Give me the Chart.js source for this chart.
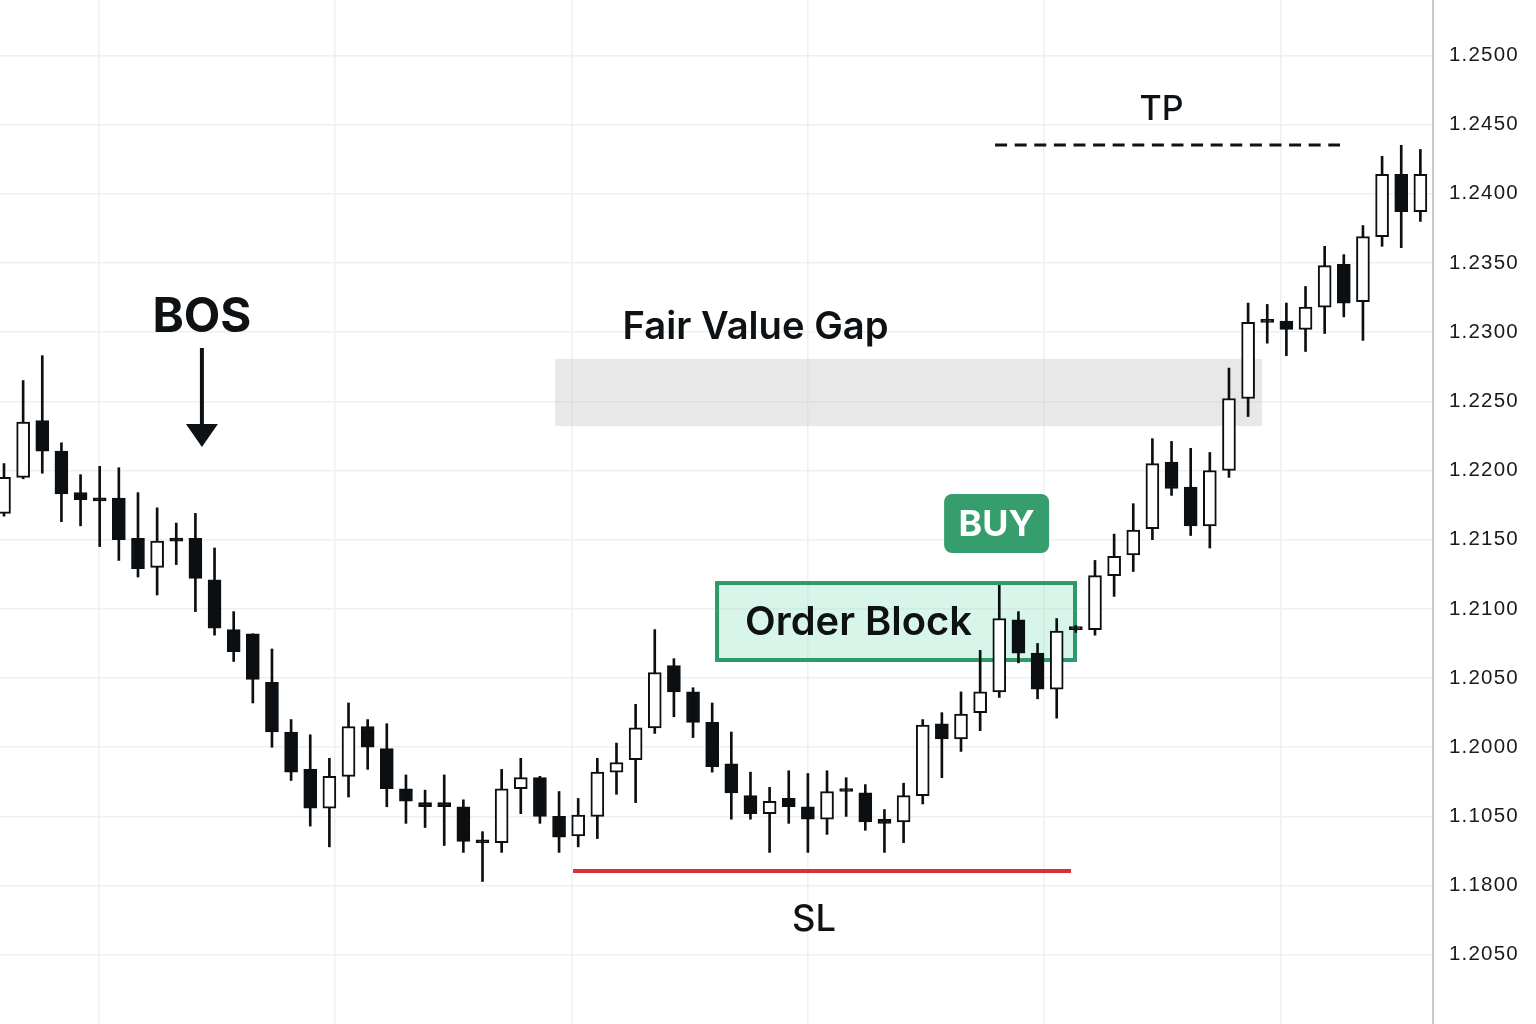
<!DOCTYPE html>
<html>
<head>
<meta charset="utf-8">
<script src="https://cdn.jsdelivr.net/npm/chart.js@4.4.1/dist/chart.umd.min.js"></script>
<style>
  html, body { margin: 0; padding: 0; background: #ffffff; }
  canvas { display: block; }
</style>
</head>
<body>
<canvas id="chart" width="1536" height="1024"></canvas>
<script>
// ---------------- DATA ----------------
const opens = [
  1.2169, 1.2195, 1.2236, 1.2214, 1.2184, 1.2180, 1.2180, 1.2151, 1.2130, 1.2151,
  1.2151, 1.2121, 1.2085, 1.2082, 1.2047, 1.2011, 1.1984, 1.1956, 1.1979, 1.2015,
  1.1999, 1.1970, 1.1960, 1.1960, 1.1957, 1.1932, 1.1931, 1.1970, 1.1978, 1.1950,
  1.1936, 1.1950, 1.1982, 1.1991, 1.2014, 1.2059, 1.2040, 1.2018, 1.1988, 1.1965,
  1.1952, 1.1963, 1.1957, 1.1948, 1.1970, 1.1967, 1.1948, 1.1946, 1.1965, 1.2017,
  1.2006, 1.2025, 1.2040, 1.2092, 1.2068, 1.2042, 1.2086, 1.2085, 1.2124, 1.2139,
  1.2158, 1.2206, 1.2188, 1.2160, 1.2200, 1.2252, 1.2308, 1.2308, 1.2302, 1.2318,
  1.2349, 1.2322, 1.2369, 1.2414, 1.2387
];
const highs = [
  1.2205, 1.2265, 1.2283, 1.2220, 1.2197, 1.2203, 1.2202, 1.2184, 1.2173, 1.2162,
  1.2169, 1.2144, 1.2098, 1.2082, 1.2071, 1.2020, 1.2009, 1.1992, 1.2032, 1.2020,
  1.2017, 1.1980, 1.1969, 1.1980, 1.1962, 1.1939, 1.1984, 1.1992, 1.1979, 1.1968,
  1.1963, 1.1992, 1.2003, 1.2031, 1.2085, 1.2064, 1.2043, 1.2032, 1.2011, 1.1982,
  1.1971, 1.1983, 1.1981, 1.1983, 1.1978, 1.1973, 1.1955, 1.1974, 1.2020, 1.2025,
  1.2040, 1.2070, 1.2117, 1.2098, 1.2075, 1.2093, 1.2088, 1.2135, 1.2154, 1.2176,
  1.2223, 1.2221, 1.2216, 1.2213, 1.2274, 1.2321, 1.2320, 1.2321, 1.2333, 1.2362,
  1.2356, 1.2377, 1.2427, 1.2435, 1.2432
];
const lows = [
  1.2167, 1.2194, 1.2198, 1.2163, 1.2160, 1.2145, 1.2135, 1.2123, 1.2110, 1.2132,
  1.2098, 1.2081, 1.2062, 1.2032, 1.2000, 1.1976, 1.1943, 1.1928, 1.1964, 1.1984,
  1.1957, 1.1945, 1.1942, 1.1929, 1.1924, 1.1903, 1.1924, 1.1952, 1.1945, 1.1924,
  1.1928, 1.1934, 1.1966, 1.1960, 1.2010, 1.2022, 1.2007, 1.1982, 1.1948, 1.1948,
  1.1924, 1.1945, 1.1924, 1.1937, 1.1950, 1.1940, 1.1924, 1.1931, 1.1959, 1.1978,
  1.1997, 1.2012, 1.2036, 1.2061, 1.2035, 1.2021, 1.2083, 1.2081, 1.2109, 1.2127,
  1.2150, 1.2182, 1.2153, 1.2144, 1.2195, 1.2239, 1.2292, 1.2283, 1.2286, 1.2299,
  1.2311, 1.2294, 1.2362, 1.2361, 1.2380
];
const closes = [
  1.2195, 1.2235, 1.2214, 1.2183, 1.2179, 1.2178, 1.2150, 1.2129, 1.2149, 1.2149,
  1.2122, 1.2086, 1.2069, 1.2049, 1.2011, 1.1982, 1.1956, 1.1979, 1.2015, 1.2000,
  1.1970, 1.1961, 1.1957, 1.1957, 1.1932, 1.1931, 1.1970, 1.1978, 1.1950, 1.1935,
  1.1951, 1.1982, 1.1989, 1.2014, 1.2054, 1.2040, 1.2018, 1.1986, 1.1967, 1.1952,
  1.1961, 1.1957, 1.1948, 1.1968, 1.1968, 1.1946, 1.1945, 1.1965, 1.2016, 1.2006,
  1.2024, 1.2040, 1.2093, 1.2068, 1.2042, 1.2084, 1.2085, 1.2124, 1.2138, 1.2157,
  1.2205, 1.2187, 1.2160, 1.2200, 1.2252, 1.2307, 1.2307, 1.2302, 1.2318, 1.2348,
  1.2321, 1.2369, 1.2414, 1.2387, 1.2414
];
// price axis: tick positions and the labels printed at them (as shown in the picture)
const tickValues = [1.2500, 1.2450, 1.2400, 1.2350, 1.2300, 1.2250, 1.2200,
                    1.2150, 1.2100, 1.2050, 1.2000, 1.1950, 1.1900, 1.1850];
const tickLabels = ["1.2500", "1.2450", "1.2400", "1.2350", "1.2300", "1.2250", "1.2200",
                    "1.2150", "1.2100", "1.2050", "1.2000", "1.1050", "1.1800", "1.2050"];
// annotation texts
const labelBOS = "BOS";
const labelFVG = "Fair Value Gap";
const labelOB = "Order Block";
const labelBUY = "BUY";
const labelTP = "TP";
const labelSL = "SL";
// annotation anchors in data space (candle index, price)
const fvgZone = { from: 28.79, to: 65.73, top: 1.22806, bottom: 1.22321 };
const obZone = { from: 37.15, to: 56.06, top: 1.21201, bottom: 1.20616 };
const tpLevel = { from: 51.78, to: 69.80, price: 1.24352 };
const slLevel = { from: 29.73, to: 55.75, price: 1.19105 };
const bosMark = { at: 10.34, textPrice: 1.23124, arrowTop: 1.22885, arrowTip: 1.22170 };
const buyMark = { at: 51.86, price: 1.21617 };

// ---------------- CHART ----------------
const idx = opens.map((_, i) => i);
const bodyData = idx.map(i => ({ x: i, y: [opens[i], closes[i]] }));
const wickData = idx.map(i => ({ x: i, y: [lows[i], highs[i]] }));
const bodyFill = idx.map(i => closes[i] >= opens[i] ? '#ffffff' : '#0b0f12');

const FONT = 'Inter, "Liberation Sans", Arial, sans-serif';
const CAP_SHIFT = 3; // centre caps rather than the em box

function fitFont(ctx, text, weight, target) {
  ctx.font = `${weight} 100px ${FONT}`;
  const w = ctx.measureText(text).width;
  return `${weight} ${(100 * target / w).toFixed(2)}px ${FONT}`;
}

const annotationPlugin = {
  id: 'smcAnnotations',
  beforeDraw(chart) {
    chart.ctx.letterSpacing = '1.2px';
  },
  beforeDatasetsDraw(chart) {
    const ctx = chart.ctx;
    ctx.letterSpacing = '0px';
    const xs = chart.scales.x, ys = chart.scales.y;
    ctx.save();
    // Fair value gap zone
    const fx0 = xs.getPixelForValue(fvgZone.from), fx1 = xs.getPixelForValue(fvgZone.to);
    const fy0 = ys.getPixelForValue(fvgZone.top), fy1 = ys.getPixelForValue(fvgZone.bottom);
    ctx.fillStyle = 'rgba(205,205,205,0.45)';
    ctx.fillRect(fx0, fy0, fx1 - fx0, fy1 - fy0);
    // Order block zone
    const ox0 = xs.getPixelForValue(obZone.from), ox1 = xs.getPixelForValue(obZone.to);
    const oy0 = ys.getPixelForValue(obZone.top), oy1 = ys.getPixelForValue(obZone.bottom);
    ctx.fillStyle = 'rgba(160,232,200,0.42)';
    ctx.fillRect(ox0, oy0, ox1 - ox0, oy1 - oy0);
    ctx.strokeStyle = '#2f9a69';
    ctx.lineWidth = 4;
    ctx.strokeRect(ox0 + 2, oy0 + 2, ox1 - ox0 - 4, oy1 - oy0 - 4);
    ctx.fillStyle = '#0e1214';
    ctx.font = fitFont(ctx, labelOB, 600, 227);
    ctx.textAlign = 'left';
    ctx.textBaseline = 'middle';
    ctx.fillText(labelOB, ox0 + 30, (oy0 + oy1) / 2 + 1);
    ctx.restore();
  },
  afterDatasetsDraw(chart) {
    const ctx = chart.ctx;
    const xs = chart.scales.x, ys = chart.scales.y;
    ctx.save();
    ctx.letterSpacing = '0px';
    ctx.textAlign = 'center';
    ctx.textBaseline = 'middle';
    ctx.fillStyle = '#0e1214';

    // BOS label + arrow
    const bx = xs.getPixelForValue(bosMark.at);
    ctx.font = fitFont(ctx, labelBOS, 700, 99);
    ctx.fillText(labelBOS, bx, ys.getPixelForValue(bosMark.textPrice) + CAP_SHIFT);
    const aTop = ys.getPixelForValue(bosMark.arrowTop), aTip = ys.getPixelForValue(bosMark.arrowTip);
    ctx.strokeStyle = '#0e1214';
    ctx.lineWidth = 4;
    ctx.beginPath();
    ctx.moveTo(bx, aTop);
    ctx.lineTo(bx, aTip - 18);
    ctx.stroke();
    ctx.beginPath();
    ctx.moveTo(bx - 16, aTip - 23);
    ctx.lineTo(bx + 16, aTip - 23);
    ctx.lineTo(bx, aTip);
    ctx.closePath();
    ctx.fill();

    // Fair value gap label
    ctx.font = fitFont(ctx, labelFVG, 600, 266);
    ctx.fillText(labelFVG, (xs.getPixelForValue(fvgZone.from) + xs.getPixelForValue(fvgZone.to)) / 2 - 153,
                 ys.getPixelForValue(fvgZone.top) - 34 + CAP_SHIFT);

    // BUY badge
    const buyCx = xs.getPixelForValue(buyMark.at), buyCy = ys.getPixelForValue(buyMark.price);
    ctx.fillStyle = '#369d6d';
    ctx.beginPath();
    ctx.roundRect(buyCx - 52.5, buyCy - 29.5, 105, 59, 8);
    ctx.fill();
    ctx.fillStyle = '#ffffff';
    ctx.font = fitFont(ctx, labelBUY, 700, 76);
    ctx.fillText(labelBUY, buyCx, buyCy + 2);

    // TP dashed level + label
    const tx0 = xs.getPixelForValue(tpLevel.from), tx1 = xs.getPixelForValue(tpLevel.to);
    const ty = ys.getPixelForValue(tpLevel.price);
    ctx.strokeStyle = '#111111';
    ctx.lineWidth = 3;
    ctx.setLineDash([12, 7.6]);
    ctx.beginPath();
    ctx.moveTo(tx0, ty);
    ctx.lineTo(tx1, ty);
    ctx.stroke();
    ctx.setLineDash([]);
    ctx.fillStyle = '#0e1214';
    ctx.font = fitFont(ctx, labelTP, 500, 44);
    ctx.fillText(labelTP, (tx0 + tx1) / 2 - 6, ty - 38 + CAP_SHIFT);

    // SL level + label
    const sx0 = xs.getPixelForValue(slLevel.from), sx1 = xs.getPixelForValue(slLevel.to);
    const sy = ys.getPixelForValue(slLevel.price);
    ctx.strokeStyle = '#d7313b';
    ctx.lineWidth = 4;
    ctx.beginPath();
    ctx.moveTo(sx0, sy);
    ctx.lineTo(sx1, sy);
    ctx.stroke();
    ctx.font = fitFont(ctx, labelSL, 500, 44);
    ctx.fillText(labelSL, (sx0 + sx1) / 2 - 8, sy + 46 + CAP_SHIFT);
    ctx.restore();
  }
};

const gridStart = 4.94, gridStep = 12.35;

new Chart(document.getElementById('chart'), {
  type: 'bar',
  data: {
    datasets: [
      {
        label: 'body',
        data: bodyData,
        backgroundColor: bodyFill,
        borderColor: '#0b0f12',
        borderWidth: 2,
        borderSkipped: false,
        barThickness: 13,
        minBarLength: 3,
        grouped: false
      },
      {
        label: 'wick',
        data: wickData,
        backgroundColor: '#0b0f12',
        borderWidth: 0,
        barThickness: 2,
        grouped: false
      }
    ]
  },
  options: {
    responsive: false,
    animation: false,
    devicePixelRatio: 1,
    layout: { padding: 0 },
    plugins: { legend: { display: false }, tooltip: { enabled: false } },
    scales: {
      x: {
        type: 'linear',
        min: -0.209,
        max: 74.66,
        offset: false,
        grid: { color: '#efefef', lineWidth: 1.5, drawTicks: false, offset: false },
        border: { display: false },
        ticks: { display: false },
        afterBuildTicks: (scale) => {
          const t = [];
          for (let v = gridStart; v < 74.66; v += gridStep) t.push({ value: v });
          scale.ticks = t;
        },
        afterFit: (scale) => { scale.height = 0; scale.paddingLeft = 0; scale.paddingRight = 0; }
      },
      y: {
        type: 'linear',
        position: 'right',
        min: 1.18,
        max: 1.254,
        beginAtZero: false,
        grid: { color: '#efefef', lineWidth: 1.5, drawTicks: false },
        border: { display: true, color: '#c9c9c9', width: 2 },
        afterBuildTicks: (scale) => { scale.ticks = tickValues.map(v => ({ value: v })); },
        afterFit: (scale) => { scale.width = 103; scale.paddingTop = 0; scale.paddingBottom = 0; },
        ticks: {
          padding: 16,
          color: '#1a1a1a',
          font: { family: '"Liberation Sans", Arial, sans-serif', size: 20.5 },
          autoSkip: false,
          callback: (value, index) => tickLabels[index]
        }
      }
    }
  },
  plugins: [annotationPlugin]
});
</script>
</body>
</html>
